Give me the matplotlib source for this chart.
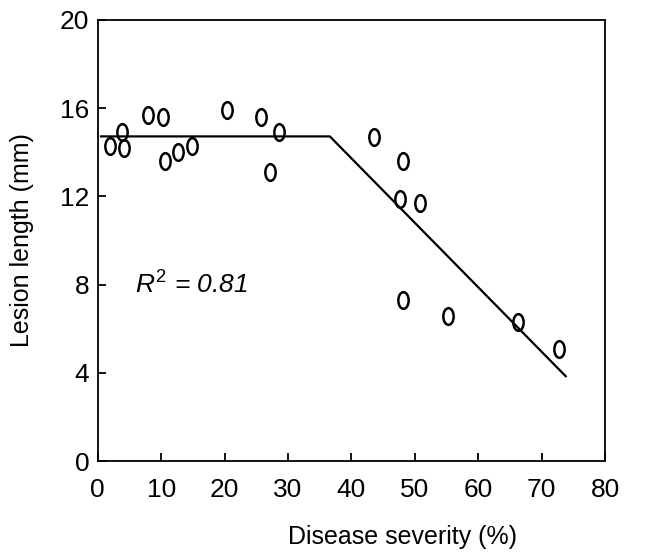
import matplotlib
matplotlib.use("Agg")
import matplotlib.pyplot as plt
from matplotlib.path import Path

plt.rcParams['font.family'] = ['Liberation Sans', 'DejaVu Sans']
plt.rcParams['mathtext.fontset'] = 'custom'
plt.rcParams['mathtext.rm'] = 'Liberation Sans'
plt.rcParams['mathtext.it'] = 'Liberation Sans:italic'

# observed points
severity = [2.0, 3.8, 4.1, 7.9, 10.3, 10.6, 12.6, 14.9, 20.4, 25.8, 27.2, 28.5,
            43.5, 47.6, 48.1, 48.2, 50.8, 55.2, 66.2, 72.7]
lesion = [14.3, 14.9, 14.2, 15.7, 15.6, 13.6, 14.0, 14.3, 15.9, 15.6, 13.1, 14.9,
          14.7, 11.9, 7.3, 13.6, 11.7, 6.6, 6.3, 5.1]

# broken-stick fit
fit_x = [0.5, 36.6, 73.8]
fit_y = [14.72, 14.72, 3.85]

circ = Path.unit_circle()
oval = Path(circ.vertices * [0.62, 1.0], circ.codes)

fig = plt.figure(figsize=(6.52, 5.53), dpi=100)
ax = fig.add_axes([0.150, 0.166, 0.778, 0.798])

ax.plot(fit_x, fit_y, color='black', lw=1.6)
ax.plot(severity, lesion, linestyle='none', marker=oval, markersize=12,
        markerfacecolor='none', markeredgecolor='black', markeredgewidth=1.8)

ax.text(5.8, 8.0, r'$R^{2}$ = 0.81', fontsize=19, fontstyle='italic', va='center')

ax.set_xlim(0, 80)
ax.set_ylim(0, 20)
ax.set_xticks(range(0, 81, 10))
ax.set_yticks(range(0, 21, 4))
ax.tick_params(direction='in', length=6, width=1.3, labelsize=19, pad=6)
ax.tick_params(axis='x', pad=12)
for s in ax.spines.values():
    s.set_linewidth(1.3)

ax.set_xlabel('Disease severity (%)', fontsize=18)
ax.xaxis.set_label_coords(0.60, -0.145)
ax.set_ylabel('Lesion length (mm)', fontsize=18)
ax.yaxis.set_label_coords(-0.125, 0.5)

plt.savefig('out.png', dpi=100)
